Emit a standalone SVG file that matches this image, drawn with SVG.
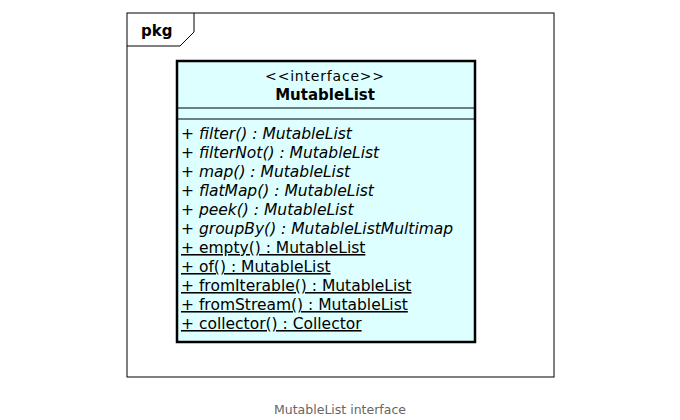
<svg xmlns="http://www.w3.org/2000/svg" width="680" height="420" viewBox="0 0 680 420">
<style>
text{font-family:"DejaVu Sans","Noto Sans",sans-serif;fill:#000}
.m{font-size:15.5px}
.i{font-style:italic}
.u{text-decoration:underline}
</style>
<rect width="680" height="420" fill="#fff"/>
<g id="pkg">
<rect x="127" y="13" width="427" height="364" fill="#fff" stroke="#000" stroke-width="1"/>
<path d="M127,46 L180,46 L194,32 L194,13" fill="none" stroke="#000" stroke-width="1"/>
<text x="141" y="36" font-size="15" font-weight="bold">pkg</text>
</g>
<g id="MutableList">
<rect x="177" y="61" width="298" height="281" fill="#DDFFFF" stroke="#000" stroke-width="2.5"/>
<line x1="177" y1="108" x2="475" y2="108" stroke="#000" stroke-width="1.2"/>
<line x1="177" y1="119" x2="475" y2="119" stroke="#000" stroke-width="1.2"/>
<text x="325" y="81" font-size="14" letter-spacing="0.8" text-anchor="middle">&lt;&lt;interface&gt;&gt;</text>
<text x="325" y="100" font-size="15" font-weight="bold" text-anchor="middle">MutableList</text>
<text class="m i" x="181" y="139">+ filter() : MutableList</text>
<text class="m i" x="181" y="158">+ filterNot() : MutableList</text>
<text class="m i" x="181" y="177">+ map() : MutableList</text>
<text class="m i" x="181" y="196">+ flatMap() : MutableList</text>
<text class="m i" x="181" y="215">+ peek() : MutableList</text>
<text class="m i" x="181" y="234">+ groupBy() : MutableListMultimap</text>
<text class="m u" x="181" y="253">+ empty() : MutableList</text>
<text class="m u" x="181" y="272">+ of() : MutableList</text>
<text class="m u" x="181" y="291">+ fromIterable() : MutableList</text>
<text class="m u" x="181" y="310">+ fromStream() : MutableList</text>
<text class="m u" x="181" y="329">+ collector() : Collector</text>
</g>
<text x="340" y="414" font-size="12.5" text-anchor="middle" style="fill:#666">MutableList interface</text>
</svg>
